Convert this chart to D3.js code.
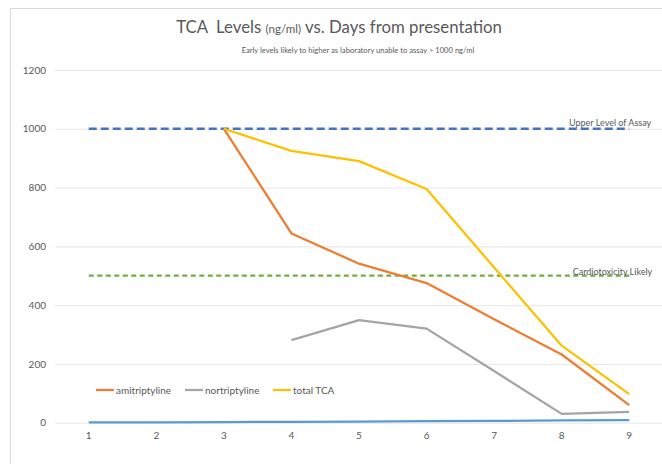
<!DOCTYPE html>
<html>
<head>
<meta charset="utf-8">
<script src="https://cdn.jsdelivr.net/npm/d3@7"></script>
<style>
  html, body { margin: 0; padding: 0; background: #fff; }
  svg { display: block; font-family: Lato, "Open Sans", sans-serif; }
</style>
</head>
<body>
<svg id="chart" width="662" height="464"></svg>
<script>
// Days from presentation
const days = [1, 2, 3, 4, 5, 6, 7, 8, 9];
// Measured levels, ng/ml (null = not measured)
const amitriptyline = [null, null, 1000, 644, 541, 475, 352, 232, 60];
const nortriptyline = [null, null, null, 281, 349, 320, 176, 30, 37];
const totalTCA      = [null, null, 1000, 925, 890, 795, 528, 262, 97];
// Reference lines and baseline series
const upperAssay    = [1000, 1000, 1000, 1000, 1000, 1000, 1000, 1000, 1000];
const cardiotoxic   = [500, 500, 500, 500, 500, 500, 500, 500, 500];
const baseline      = [1, 1, 2, 3, 4, 5, 6, 8, 9];
const yTicks = [0, 200, 400, 600, 800, 1000, 1200];

const svg = d3.select("#chart");
const textColor = "#595959";

// chart frame
svg.append("path")
  .attr("d", "M10.5,464 L10.5,8.5 L662,8.5")
  .attr("fill", "none").attr("stroke", "#d9d9d9").attr("stroke-width", 1);

const plot = { left: 55, right: 663, top: 70, bottom: 422.7 };

const x = d3.scaleBand().domain(days).range([plot.left, plot.right]);
const xc = d => x(d) + x.bandwidth() / 2;
const y = d3.scaleLinear().domain([0, 1200]).range([plot.bottom, plot.top]);

// horizontal gridlines
const yAxis = d3.axisLeft(y).tickValues(yTicks).tickFormat(d3.format("d"))
  .tickSize(-(plot.right - plot.left)).tickPadding(9);
const gy = svg.append("g").attr("transform", `translate(${plot.left},0)`).call(yAxis);
gy.select(".domain").remove();
gy.selectAll(".tick line").attr("stroke", "#e6e6e6").attr("stroke-width", 1);
gy.selectAll(".tick text").attr("fill", textColor).attr("font-size", 10)
  .attr("font-family", "Lato, 'Open Sans', sans-serif");

// category axis labels
const xAxis = d3.axisBottom(x).tickSize(0).tickPadding(9);
const gx = svg.append("g").attr("transform", `translate(0,${plot.bottom})`).call(xAxis);
gx.select(".domain").remove();
gx.selectAll(".tick text").attr("fill", textColor).attr("font-size", 10)
  .attr("font-family", "Lato, 'Open Sans', sans-serif");

const line = d3.line()
  .defined(d => d.v !== null)
  .x(d => xc(d.day))
  .y(d => y(d.v));

const toPts = arr => days.map((day, i) => ({ day, v: arr[i] }));

const series = [
  { data: baseline,      color: "#5B9BD5", width: 2.25, dash: null },
  { data: upperAssay,    color: "#4472C4", width: 2.5,  dash: "8,4" },
  { data: cardiotoxic,   color: "#70AD47", width: 2.25, dash: "5,3.5" },
  { data: amitriptyline, color: "#ED7D31", width: 2.25, dash: null },
  { data: nortriptyline, color: "#A5A5A5", width: 2.25, dash: null },
  { data: totalTCA,      color: "#FFC000", width: 2.25, dash: null }
];

series.forEach(s => {
  svg.append("path")
    .datum(toPts(s.data))
    .attr("d", line)
    .attr("fill", "none")
    .attr("stroke", s.color)
    .attr("stroke-width", s.width)
    .attr("stroke-linejoin", "round")
    .attr("stroke-dasharray", s.dash);
});

// labels on the reference lines
const lastDay = days[days.length - 1];
svg.append("text")
  .attr("x", xc(lastDay) + 22).attr("y", y(upperAssay[8]) - 2.5)
  .attr("text-anchor", "end").attr("font-size", 9).attr("fill", textColor)
  .text("Upper Level of Assay");
svg.append("text")
  .attr("x", xc(lastDay) + 23).attr("y", y(cardiotoxic[8]) - 0.5)
  .attr("text-anchor", "end").attr("font-size", 9).attr("fill", textColor)
  .text("Cardiotoxicity Likely");

// title
const title = svg.append("text")
  .attr("x", 339).attr("y", 33)
  .attr("text-anchor", "middle").attr("fill", textColor)
  .attr("font-size", 16.8);
title.append("tspan").attr("xml:space", "preserve").text("TCA  Levels ");
title.append("tspan").attr("font-size", 11.5).text("(ng/ml)");
title.append("tspan").text(" vs. Days from presentation");

svg.append("text")
  .attr("x", 358).attr("y", 53)
  .attr("text-anchor", "middle").attr("fill", textColor)
  .attr("font-size", 7.6)
  .text("Early levels likely to higher as laboratory unable to assay > 1000 ng/ml");

// legend
const legendItems = [
  { name: "amitriptyline", color: "#ED7D31", x: 96 },
  { name: "nortriptyline", color: "#A5A5A5", x: 185 },
  { name: "total TCA",     color: "#FFC000", x: 273 }
];
const lg = svg.append("g").attr("transform", "translate(0,390)");
legendItems.forEach(it => {
  lg.append("line").attr("x1", it.x).attr("x2", it.x + 18).attr("y1", 0).attr("y2", 0)
    .attr("stroke", it.color).attr("stroke-width", 2.25);
  lg.append("text").attr("x", it.x + 20).attr("y", 3.5)
    .attr("font-size", 10).attr("fill", textColor).text(it.name);
});
</script>
</body>
</html>
